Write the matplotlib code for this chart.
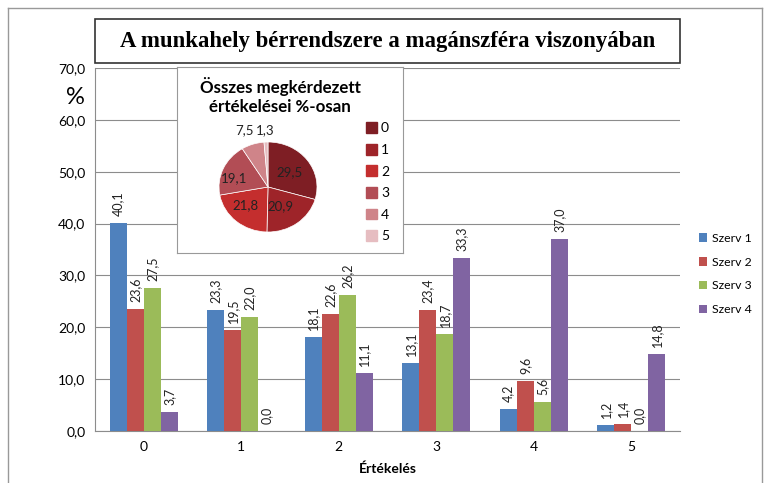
import matplotlib.pyplot as plt
import matplotlib as mpl
import numpy as np

mpl.rcParams['font.family'] = ['Lato', 'DejaVu Sans']

categories = ['0', '1', '2', '3', '4', '5']
series_names = ['Szerv 1', 'Szerv 2', 'Szerv 3', 'Szerv 4']
szerv1 = [40.1, 23.3, 18.1, 13.1, 4.2, 1.2]
szerv2 = [23.6, 19.5, 22.6, 23.4, 9.6, 1.4]
szerv3 = [27.5, 22.0, 26.2, 18.7, 5.6, 0.0]
szerv4 = [3.7, 0.0, 11.1, 33.3, 37.0, 14.8]

pie_labels = ['0', '1', '2', '3', '4', '5']
pie_values = [29.5, 20.9, 21.8, 19.1, 7.5, 1.3]

bar_colors = ['#4F81BD', '#C0504D', '#9BBB59', '#8064A2']
pie_colors = ['#7E1E24', '#9E2429', '#C42E2E', '#B24D55', '#CF8489', '#E6BDC1']

def fmt(v):
    return ('%.1f' % v).replace('.', ',')

fig = plt.figure(figsize=(7.68, 4.83), dpi=100)
W, H = 768, 483

def box(x0, y0, x1, y1):
    return [x0 / W, 1 - y1 / H, (x1 - x0) / W, (y1 - y0) / H]

# outer frame (top, left, right)
fig.add_artist(plt.Line2D([8 / W, 762 / W], [1 - 8 / H, 1 - 8 / H], color='#999999', lw=1))
fig.add_artist(plt.Line2D([8 / W, 8 / W], [0, 1 - 8 / H], color='#999999', lw=1))
fig.add_artist(plt.Line2D([762 / W, 762 / W], [0, 1 - 8 / H], color='#999999', lw=1))

# title box
fig.add_artist(plt.Rectangle((95 / W, 1 - 63 / H), 585 / W, 44 / H, fill=False,
                             edgecolor='#333333', lw=1.2))
fig.text(388 / W, 1 - 41 / H, 'A munkahely bérrendszere a magánszféra viszonyában',
         ha='center', va='center', fontsize=16.4, fontweight='bold',
         family=['Liberation Serif', 'DejaVu Serif'])

ax = fig.add_axes(box(95, 68, 680, 431))
x = np.arange(len(categories))
w = 0.175
all_series = [szerv1, szerv2, szerv3, szerv4]
for i, vals in enumerate(all_series):
    pos = x + (i - 1.5) * w
    ax.bar(pos, vals, width=w, color=bar_colors[i], label=series_names[i], zorder=3)
    for p, v in zip(pos, vals):
        ax.annotate(fmt(v), (p, v), xytext=(0, 5), textcoords='offset points',
                    rotation=90, ha='center', va='bottom', fontsize=9, color='#222222')

ax.set_xlim(-0.5, 5.5)
ax.set_ylim(0, 70)
ax.set_yticks(np.arange(0, 71, 10))
ax.set_yticklabels([fmt(t) for t in np.arange(0, 71, 10)], fontsize=10)
ax.set_xticks(x)
ax.set_xticklabels(categories, fontsize=10)
ax.tick_params(axis='both', length=0, pad=7)
ax.grid(axis='y', color='#8c8c8c', lw=0.8, zorder=0)
for s in ['top', 'right']:
    ax.spines[s].set_visible(False)
ax.spines['left'].set_color('#8c8c8c')
ax.spines['bottom'].set_color('#8c8c8c')
ax.set_xlabel('Értékelés', fontsize=10, fontweight='bold', labelpad=7)
fig.text(75 / W, 1 - 97 / H, '%', fontsize=17, ha='center', va='center')

ax.legend(loc='center left', bbox_to_anchor=(694 / W, 1 - 274 / H), bbox_transform=fig.transFigure,
          frameon=False, fontsize=8.8, handlelength=0.7, handleheight=0.7,
          labelspacing=1.05, handletextpad=0.4, borderaxespad=0)

# inset with pie
inset = fig.add_axes(box(177, 67, 403, 253))
inset.set_xticks([])
inset.set_yticks([])
inset.set_facecolor('white')
for s in inset.spines.values():
    s.set_color('#999999')
inset.set_zorder(5)
inset.text(0.456, 0.844, 'Összes megkérdezett\nértékelései %-osan', transform=inset.transAxes,
           ha='center', va='center', fontsize=12.2, fontweight='bold', linespacing=1.25)

pax = fig.add_axes(box(219, 142, 317, 232))
pax.set_zorder(6)
wedges, _ = pax.pie(pie_values, colors=pie_colors, startangle=90, counterclock=False,
                    wedgeprops=dict(edgecolor='white', linewidth=0.5), radius=1)
pax.set_aspect('auto')
pax.set_xlim(-1, 1)
pax.set_ylim(-1, 1)
label_pos = [(0.43, 0.33), (0.26, -0.42), (-0.45, -0.4), (-0.7, 0.2), (-0.48, 1.26), (-0.05, 1.26)]
for (lx, ly), v in zip(label_pos, pie_values):
    pax.text(lx, ly, fmt(v), ha='center', va='center', fontsize=9.5, color='#222222')

handles = [plt.Rectangle((0, 0), 1, 1, color=c) for c in pie_colors]
inset.legend(handles, pie_labels, loc='center left', bbox_to_anchor=(0.78, 0.38),
             frameon=False, fontsize=10, handlelength=0.8, handleheight=0.8,
             labelspacing=0.68, handletextpad=0.3)

plt.savefig('out.png', dpi=100)
